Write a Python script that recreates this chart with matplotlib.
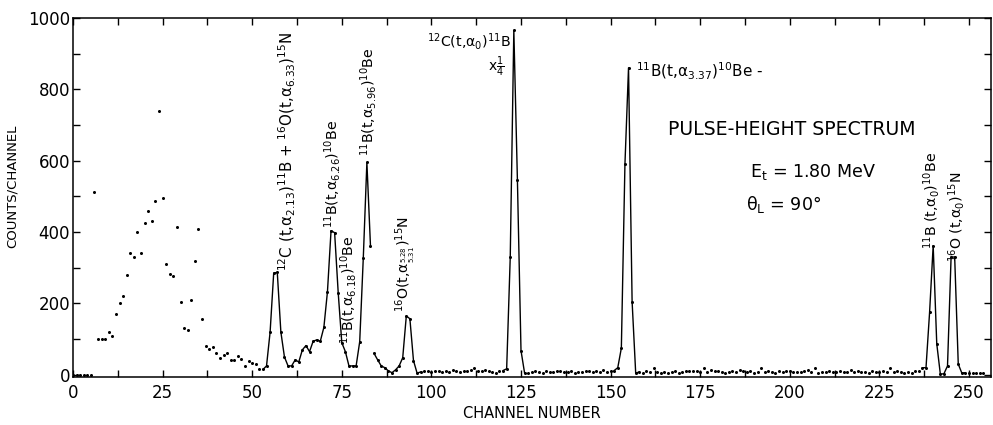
import numpy as np
import matplotlib
matplotlib.use("Agg")
import matplotlib.pyplot as plt
from matplotlib.ticker import MultipleLocator

# counts per channel, channel 0 .. 254
low_start = [0, 0, 0, 0, 0, 0]                                     # ch 0-5
low_hump = [511, 100, 100, 100, 120, 110, 170, 200, 220, 280, 340,
            330, 400, 340, 425, 460, 432, 488, 740, 495, 310, 282,
            278, 414, 205, 130, 125, 210, 318, 408, 157, 82, 72, 78,
            60, 48, 55, 60, 42, 42, 52, 45, 25, 38, 33, 30, 17]    # ch 6-52
peaks_a = [15, 25, 120, 285, 287, 120, 50, 25, 25, 42, 36, 70, 82,
           65, 94, 98, 94, 133, 233, 404, 398, 230, 90, 65, 25, 25,
           25, 93, 328, 595, 362]                                  # ch 53-83
peaks_b = [60, 42, 25, 20, 11, 6, 14, 25, 48, 165, 157, 40, 5, 8]  # ch 84-97
base_1 = [10, 12, 8, 12, 10, 8, 12, 8, 14, 10, 8, 10, 12, 14, 18,
          12, 10, 14, 10, 8, 6, 10, 12]                            # ch 98-120
peak_c = [17, 330, 965, 545, 68, 5]                                # ch 121-126
base_2 = [5, 8, 10, 8, 6, 10, 8, 8, 10, 12, 8, 8, 10, 6, 8, 8, 10,
          12, 8, 10, 8, 14, 8, 10, 12]                             # ch 127-151
peak_d = [20, 75, 590, 860, 205, 5]                                # ch 152-157
base_3 = [8, 6, 10, 8, 18, 8, 6, 8, 6, 8, 10, 6, 8, 10, 10, 12, 10,
          8, 20, 8, 14, 10, 10, 8, 6, 8, 10, 8, 14, 10, 8, 10, 6, 8,
          18, 8, 10, 8, 6, 10, 8, 10, 12, 8, 8, 8, 10, 14, 8, 20, 6,
          8, 8, 10, 8, 8, 10, 8, 8, 14, 8, 10, 8, 8, 6, 10, 8, 8, 10,
          8, 20, 8, 10, 8, 6, 8, 6, 10, 12, 20]                    # ch 158-237
peaks_e = [20, 175, 362, 87, 2, 3, 25, 330, 330, 30, 5]            # ch 238-248
base_4 = [6, 6, 5, 6, 6, 6]                                        # ch 249-254

counts = np.array(low_start + low_hump + peaks_a + peaks_b + base_1 +
                  peak_c + base_2 + peak_d + base_3 + peaks_e + base_4)
channels = np.arange(len(counts))

# channel ranges joined by the hand drawn curve
curve_spans = [(53, 83), (84, 97), (120, 126), (151, 158), (237, 249)]

plt.rcParams['font.family'] = 'DejaVu Sans'
plt.rcParams['mathtext.default'] = 'regular'

fig = plt.figure(figsize=(9.93, 4.25), dpi=100)
ax = fig.add_axes([0.0735, 0.113, 0.924, 0.845])

for a, b in curve_spans:
    ax.plot(channels[a:b + 1], counts[a:b + 1], color='black', lw=1.0)
ax.plot(channels, counts, 'o', color='black', ms=2.2, mew=0)

ax.set_xlim(0, 256)
ax.set_ylim(-6, 1000)
ax.xaxis.set_major_locator(MultipleLocator(25))
ax.xaxis.set_minor_locator(MultipleLocator(12.5))
ax.yaxis.set_major_locator(MultipleLocator(200))
ax.yaxis.set_minor_locator(MultipleLocator(100))
ax.tick_params(which='both', direction='in', top=True, right=True,
               length=5, width=1, labelsize=12)
ax.tick_params(axis='y', pad=2)
ax.tick_params(axis='x', pad=5)
for s in ax.spines.values():
    s.set_linewidth(1.1)

ax.set_xlabel("CHANNEL NUMBER", fontsize=10.5, labelpad=3)
ax.set_ylabel("COUNTS/CHANNEL", fontsize=9.5)
ax.yaxis.set_label_coords(-0.059, 0.53)

fs = 10.2
kw = dict(rotation=90, ha='center', va='bottom', fontsize=fs)
ax.text(59.8, 290, r"$^{12}$C (t,$\alpha_{2.13}$)$^{11}$B + $^{16}$O(t,$\alpha_{6.33}$)$^{15}$N",
        rotation=90, ha='center', va='bottom', fontsize=10.8)
ax.text(72.3, 410, r"$^{11}$B(t,$\alpha_{6.26}$)$^{10}$Be", **kw)
ax.text(76.9, 85, r"$^{11}$B(t,$\alpha_{6.18}$)$^{10}$Be", **kw)
ax.text(82.4, 612, r"$^{11}$B(t,$\alpha_{5.96}$)$^{10}$Be", **kw)
ax.text(93.0, 176, r"$^{16}$O(t,$\alpha_{\genfrac{}{}{0}{}{5.28}{5.31}}$)$^{15}$N", **kw)
ax.text(239.4, 352, r"$^{11}$B (t,$\alpha_0$)$^{10}$Be", **kw)
ax.text(246.5, 316, r"$^{16}$O (t,$\alpha_0$)$^{15}$N", **kw)

ax.text(122.3, 935, r"$^{12}$C(t,$\alpha_0$)$^{11}$B", ha='right', va='center', fontsize=10.2)
ax.text(120.5, 862, r"x$\frac{1}{4}$", ha='right', va='center', fontsize=10)
ax.text(157.2, 851, r"$^{11}$B(t,$\alpha_{3.37}$)$^{10}$Be -", ha='left', va='center', fontsize=11)

ax.text(166, 688, "PULSE-HEIGHT SPECTRUM", ha='left', va='center', fontsize=13.6)
ax.text(189, 567, r"E$_t$ = 1.80 MeV", ha='left', va='center', fontsize=12.6)
ax.text(187.7, 478, r"$\theta_L$ = 90°", ha='left', va='center', fontsize=12.6)

fig.savefig("out.png", dpi=100)
